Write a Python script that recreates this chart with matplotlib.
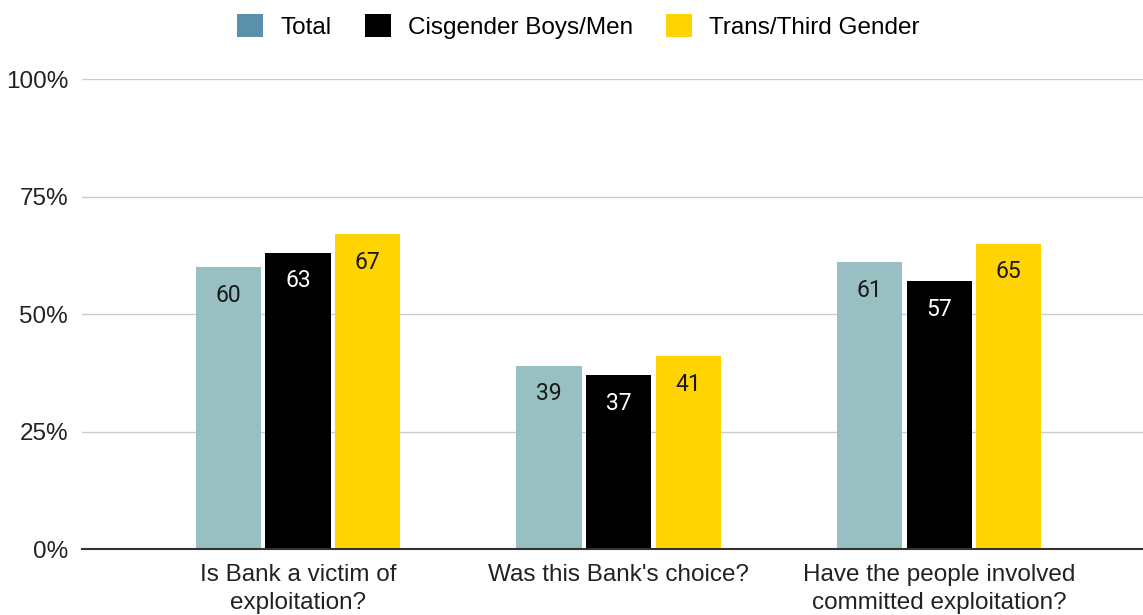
import numpy as np
import matplotlib
matplotlib.use("Agg")
import matplotlib.pyplot as plt
from matplotlib.patches import Patch

plt.rcParams['font.family'] = ['Liberation Sans', 'DejaVu Sans']

categories = ["Is Bank a victim of\nexploitation?", "Was this Bank's choice?",
              "Have the people involved\ncommitted exploitation?"]
series = ["Total", "Cisgender Boys/Men", "Trans/Third Gender"]
total = [60, 39, 61]
cis_men = [63, 37, 57]
trans_third = [67, 41, 65]

bar_colors = ["#98bfc2", "#000000", "#ffd400"]
legend_colors = ["#5b90ab", "#000000", "#ffd400"]
text_colors = ["#1a1a1a", "#ffffff", "#1a1a1a"]

fig = plt.figure(figsize=(11.43, 6.15), dpi=100)
ax = fig.add_axes([0.0717, 0.1073, 0.9283, 0.7642])

x = np.arange(len(categories))
width = 0.203
offset = 0.217
for i, vals in enumerate([total, cis_men, trans_third]):
    bars = ax.bar(x + (i - 1) * offset, vals, width, color=bar_colors[i], zorder=3)
    for b, v in zip(bars, vals):
        ax.annotate(str(v), (b.get_x() + b.get_width() / 2, v), xytext=(0, -28),
                    textcoords="offset pixels", ha="center", va="center",
                    fontsize=16.5, color=text_colors[i], family=["Roboto", "DejaVu Sans"],
                    zorder=4)

ax.set_ylim(0, 100)
ax.set_xlim(-0.674, 2.636)
ax.set_yticks([0, 25, 50, 75, 100])
ax.set_yticklabels(["0%", "25%", "50%", "75%", "100%"])
ax.set_xticks(x)
ax.set_xticklabels(categories, linespacing=1.35)
ax.tick_params(axis="both", length=0, labelsize=17.5, colors="#222222")
ax.tick_params(axis="x", pad=11)
ax.tick_params(axis="y", pad=10)
ax.grid(axis="y", color="#cccccc", linewidth=1, zorder=0)
for s in ["top", "right", "left"]:
    ax.spines[s].set_visible(False)
ax.spines["bottom"].set_color("#333333")
ax.spines["bottom"].set_linewidth(1.5)
ax.spines["bottom"].set_zorder(5)

handles = [Patch(facecolor=c, edgecolor="none") for c in legend_colors]
fig.legend(handles, series, loc="upper center", bbox_to_anchor=(0.506, 1.013), ncol=3,
           frameon=False, fontsize=17.5, handlelength=1.07, handleheight=1.07,
           columnspacing=1.36, handletextpad=0.7)

fig.savefig("out.png", dpi=100)
